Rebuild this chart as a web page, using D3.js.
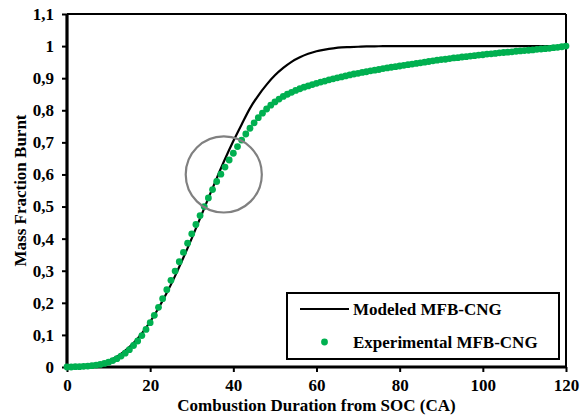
<!DOCTYPE html>
<html><head><meta charset="utf-8">
<script src="https://cdn.jsdelivr.net/npm/d3@7"></script>
<style>body{margin:0;background:#fff}svg{display:block}text{font-family:"Liberation Serif","Times New Roman",serif;font-weight:bold;font-size:17px;fill:#000}</style>
</head><body><svg id="c" width="580" height="417"></svg>
<script>
const xTicks = [0,20,40,60,80,100,120];
const yTicks = [0,0.1,0.2,0.3,0.4,0.5,0.6,0.7,0.8,0.9,1,1.1];
const yTickLabels = ["0","0,1","0,2","0,3","0,4","0,5","0,6","0,7","0,8","0,9","1","1,1"];
const xTitle = "Combustion Duration from SOC (CA)";
const yTitle = "Mass Fraction Burnt";
const seriesNames = ["Modeled MFB-CNG","Experimental MFB-CNG"];
// Experimental MFB, one point per CA from 0 to 120
const expAngle = d3.range(0,121);
const expMFB = [0.000,0.000,0.001,0.001,0.002,0.003,0.004,0.006,0.008,0.011,
0.015,0.020,0.026,0.034,0.043,0.054,0.067,0.081,0.098,0.117,
0.138,0.161,0.186,0.213,0.241,0.270,0.299,0.328,0.357,0.386,
0.415,0.444,0.472,0.500,0.527,0.553,0.578,0.601,0.623,0.645,
0.666,0.687,0.707,0.726,0.744,0.761,0.777,0.791,0.804,0.816,
0.826,0.835,0.843,0.850,0.856,0.862,0.867,0.872,0.876,0.880,
0.884,0.888,0.891,0.895,0.898,0.901,0.904,0.907,0.910,0.913,
0.915,0.918,0.920,0.923,0.925,0.927,0.930,0.932,0.934,0.936,
0.938,0.940,0.942,0.944,0.946,0.948,0.950,0.952,0.954,0.956,
0.958,0.959,0.961,0.963,0.964,0.966,0.967,0.969,0.970,0.972,
0.973,0.975,0.976,0.977,0.979,0.980,0.981,0.982,0.984,0.985,
0.986,0.987,0.988,0.990,0.991,0.992,0.993,0.995,0.996,0.998,1.000];
// Modeled MFB
const modAngle = [0,2,4,6,8,10,12,14,16,18,20,22,24,26,28,30,32,34,36,38,40,42,44,46,48,50,52,54,56,58,60,62,64,66,68,70,72,74,76,80,90,100,110,120];
const modMFB = [0,0.000,0.001,0.004,0.010,0.019,0.032,0.051,0.075,0.105,0.141,0.183,0.231,0.284,0.341,0.401,0.463,0.526,0.588,0.648,0.704,0.756,0.806,0.846,0.880,0.909,0.932,0.951,0.965,0.976,0.984,0.989,0.993,0.996,0.997,0.998,0.999,0.999,1.000,1.000,1.000,1.000,1.000,1.000];
// annotation circle (data coords) and radius in CA
const circleCenter = [37.7, 0.6];
const circleRadiusCA = 9.15;

const svg = d3.select("#c");
const m = {l:67, r:566, t:14, b:367};
const x = d3.scaleLinear().domain([0,120]).range([m.l,m.r]);
const y = d3.scaleLinear().domain([0,1.1]).range([m.b,m.t]);
const green = "#00B050";

svg.append("line").attr("x1",m.l).attr("x2",m.r).attr("y1",m.t).attr("y2",m.t).attr("stroke","#000").attr("stroke-width",2);
svg.append("line").attr("x1",m.r).attr("x2",m.r).attr("y1",m.t).attr("y2",m.b).attr("stroke","#000").attr("stroke-width",2);

const xAxis = d3.axisBottom(x).tickValues(xTicks).tickSize(5).tickPadding(7).tickFormat(d3.format("d"));
const gx = svg.append("g").attr("transform",`translate(0,${m.b})`).call(xAxis);
const yAxis = d3.axisLeft(y).tickValues(yTicks).tickSize(5).tickPadding(8).tickFormat((d,i)=>yTickLabels[i]);
const gy = svg.append("g").attr("transform",`translate(${m.l},0)`).call(yAxis);
[gx,gy].forEach(g=>{
  g.attr("font-family",null).attr("font-size",null);
  g.select(".domain").attr("stroke","#000").attr("stroke-width",3.2);
  g.selectAll(".tick line").attr("stroke","#000").attr("stroke-width",2);
});
gy.select(".domain").attr("d",`M0,${m.b}V${m.t}`);
gx.select(".domain").attr("d",`M${m.l},0H${m.r}`);

svg.append("text").attr("x",(m.l+m.r)/2).attr("y",411).attr("text-anchor","middle").text(xTitle);
svg.append("text").attr("transform",`translate(25.5,${(m.t+m.b)/2}) rotate(-90)`).attr("text-anchor","middle").text(yTitle);

svg.append("path").datum(modAngle.map((a,i)=>[a,modMFB[i]]))
  .attr("d",d3.line().x(d=>x(d[0])).y(d=>y(d[1])).curve(d3.curveMonotoneX))
  .attr("fill","none").attr("stroke","#000").attr("stroke-width",2.2);

svg.append("g").selectAll("circle").data(expAngle.map((a,i)=>[a,expMFB[i]])).join("circle")
  .attr("cx",d=>x(d[0])).attr("cy",d=>y(d[1])).attr("r",3.4).attr("fill",green);

svg.append("circle").attr("cx",x(circleCenter[0])).attr("cy",y(circleCenter[1]))
  .attr("r",x(circleRadiusCA)-x(0)).attr("fill","none").attr("stroke","#808080").attr("stroke-width",2.2);

const lg = svg.append("g");
lg.append("rect").attr("x",287).attr("y",293).attr("width",272).attr("height",66).attr("fill","#fff").attr("stroke","#000").attr("stroke-width",2);
lg.append("line").attr("x1",300).attr("x2",349).attr("y1",309).attr("y2",309).attr("stroke","#000").attr("stroke-width",2.2);
lg.append("text").attr("x",353).attr("y",315).text(seriesNames[0]);
lg.append("circle").attr("cx",324.5).attr("cy",342).attr("r",3.4).attr("fill",green);
lg.append("text").attr("x",353).attr("y",348).text(seriesNames[1]);
</script></body></html>
